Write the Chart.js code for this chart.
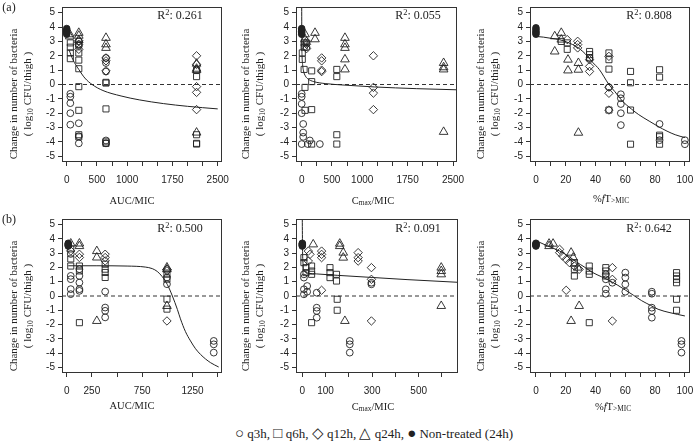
<!DOCTYPE html>
<html>
<head>
<meta charset="utf-8">
<script src="https://cdn.jsdelivr.net/npm/chart.js@4.4.1/dist/chart.umd.min.js"></script>
<style>
  body { margin: 0; background: #fff; }
  #wrap { position: relative; width: 696px; height: 448px; overflow: hidden; font-family: "Liberation Serif", "Times New Roman", serif; color: #222; }
  canvas { position: absolute; }
  .txt { position: absolute; white-space: nowrap; transform: translate(-50%, -50%); }
  .ytitle { position: absolute; white-space: nowrap; text-align: center; font-size: 11px; line-height: 14px; transform: translate(-50%, -50%) rotate(-90deg); }
  .xtitle { font-size: 10.5px; }
  .r2 { font-size: 12px; }
  .sym { font-size: 15px; line-height: 0; }
  sub { font-size: 70%; vertical-align: -0.25em; line-height: 0; }
  sup { font-size: 70%; vertical-align: 0.45em; line-height: 0; }
</style>
</head>
<body>
<div id="wrap">
  <canvas id="c1" width="230" height="195" style="left:0;top:0"></canvas>
  <canvas id="c2" width="240" height="195" style="left:230px;top:0"></canvas>
  <canvas id="c3" width="236" height="195" style="left:460px;top:0"></canvas>
  <canvas id="c4" width="230" height="195" style="left:0;top:205px"></canvas>
  <canvas id="c5" width="240" height="195" style="left:230px;top:205px"></canvas>
  <canvas id="c6" width="236" height="195" style="left:460px;top:205px"></canvas>

  <div class="txt" style="left:9px;top:7px;font-size:12px">(a)</div>
  <div class="txt" style="left:9px;top:219px;font-size:12px">(b)</div>

  <div class="ytitle" style="left:20px;top:94px">Change in number of bacteria<br>( log<sub>10</sub> CFU/thigh )</div>
  <div class="ytitle" style="left:252px;top:94px">Change in number of bacteria<br>( log<sub>10</sub> CFU/thigh )</div>
  <div class="ytitle" style="left:487px;top:94px">Change in number of bacteria<br>( log<sub>10</sub> CFU/thigh )</div>
  <div class="ytitle" style="left:20px;top:306px">Change in number of bacteria<br>( log<sub>10</sub> CFU/thigh )</div>
  <div class="ytitle" style="left:252px;top:306px">Change in number of bacteria<br>( log<sub>10</sub> CFU/thigh )</div>
  <div class="ytitle" style="left:487px;top:306px">Change in number of bacteria<br>( log<sub>10</sub> CFU/thigh )</div>

  <div class="txt xtitle" style="left:132px;top:200px">AUC/MIC</div>
  <div class="txt xtitle" style="left:373px;top:200px">C<sub>max</sub>/MIC</div>
  <div class="txt xtitle" style="left:611px;top:198px">%<i>f</i>T<sub>&gt;MIC</sub></div>
  <div class="txt xtitle" style="left:132px;top:405px">AUC/MIC</div>
  <div class="txt xtitle" style="left:373px;top:406px">C<sub>max</sub>/MIC</div>
  <div class="txt xtitle" style="left:613px;top:406px">%<i>f</i>T<sub>&gt;MIC</sub></div>

  <div class="txt r2" style="left:180px;top:15px">R<sup>2</sup>: 0.261</div>
  <div class="txt r2" style="left:418px;top:15px">R<sup>2</sup>: 0.055</div>
  <div class="txt r2" style="left:649px;top:15px">R<sup>2</sup>: 0.808</div>
  <div class="txt r2" style="left:180px;top:228px">R<sup>2</sup>: 0.500</div>
  <div class="txt r2" style="left:418px;top:228px">R<sup>2</sup>: 0.091</div>
  <div class="txt r2" style="left:649px;top:228px">R<sup>2</sup>: 0.642</div>

  <div class="txt" style="left:374px;top:434px;font-size:13px"><span class="sym">○</span> q3h, <span class="sym">□</span> q6h, <span class="sym">◇</span> q12h, <span class="sym">△</span> q24h, <span class="sym">●</span> Non-treated (24h)</div>
</div>

<script>
// ---- (a) AUC/MIC ----
const a1Ctrl = [[0,3.9],[0,3.8],[0,3.7],[0,3.6],[0,3.5]];
const a1Q3h = [[60,-0.65],[60,-0.85],[60,-1.3],[60,-2.0],[60,-2.8],[200,3.0],[200,2.7],[200,-2.7],[200,-3.6],[200,-4.1],[650,1.85],[650,1.5],[650,0.9],[650,-3.9],[650,-4.1]];
const a1Q6h = [[60,2.9],[60,2.6],[60,2.2],[60,1.8],[200,2.8],[200,2.2],[200,1.7],[200,1.1],[200,-0.15],[200,-1.8],[200,-3.5],[200,-3.65],[650,0.15],[650,0.1],[650,-1.7],[650,-4.0],[650,-4.1],[2150,1.0],[2150,0.55],[2150,-3.5],[2150,-4.1],[2150,-4.15]];
const a1Q12h = [[200,3.05],[200,2.8],[200,2.45],[650,1.85],[650,1.65],[650,0.95],[2150,2.0],[2150,1.4],[2150,-0.15],[2150,-0.55],[2150,-1.75]];
const a1Q24h = [[50,3.5],[50,3.35],[200,3.6],[200,3.4],[200,3.1],[650,3.25],[650,2.8],[650,2.55],[2150,1.45],[2150,1.1],[2150,1.0],[2150,-3.35]];
const a1Curve = [[40,2.4],[100,1.75],[200,1.05],[300,0.45],[420,0.0],[600,-0.42],[900,-0.8],[1200,-1.07],[1600,-1.33],[2000,-1.52],[2500,-1.7]];

// ---- (a) Cmax/MIC ----
const a2Ctrl = [[0,3.9],[0,3.8],[0,3.7],[0,3.6],[0,3.5]];
const a2Q3h = [[0,-0.65],[0,-0.85],[0,-1.35],[0,-2.0],[25,-2.75],[25,-3.35],[25,-3.65],[0,-4.15],[100,-4.15],[135,-3.9],[300,-4.15],[80,2.9],[80,2.6]];
const a2Q6h = [[10,2.2],[10,1.75],[40,2.9],[40,2.6],[40,1.05],[55,-0.2],[55,-1.8],[165,0.95],[165,0.2],[165,-1.75],[165,-4.15],[580,1.05],[580,0.55],[580,-3.5],[580,-4.15]];
const a2Q12h = [[80,3.0],[80,2.8],[80,2.5],[330,1.85],[330,1.65],[330,1.0],[330,0.9],[1185,2.0],[1185,-0.2],[1185,-0.6],[1185,-1.75]];
const a2Q24h = [[55,3.5],[55,3.15],[220,3.6],[220,3.15],[715,3.25],[715,2.8],[715,2.55],[715,1.75],[715,1.05],[2345,1.5],[2345,1.2],[2345,1.05],[2345,-3.3]];
const a2Curve = [[0,5.4],[2,3.0],[6,2.0],[15,1.4],[30,0.95],[60,0.6],[100,0.4],[200,0.2],[400,0.06],[700,-0.04],[1200,-0.17],[1900,-0.29],[2566,-0.37]];

// ---- (a) %fT>MIC ----
const a3Ctrl = [[0,3.95],[0,3.83],[0,3.7],[0,3.6],[0,3.5]];
const a3Q3h = [[49,-0.19],[57,-0.68],[57,-0.96],[57,-1.36],[57,-2.0],[57,-2.83],[83,-2.75],[83,-3.88],[100,-3.88],[100,-4.16],[36,1.85]];
const a3Q6h = [[17,3.0],[21,2.9],[21,2.45],[36,2.3],[36,2.08],[36,1.85],[49,2.2],[49,1.73],[49,1.07],[49,-1.78],[63.5,0.91],[63.5,0.12],[63.5,-1.78],[63.5,-4.16],[83,1.03],[83,0.51],[83,-3.53],[83,-3.64],[83,-4.16]];
const a3Q12h = [[21,3.13],[28,3.01],[28,2.78],[28,2.55],[36,1.73],[36,1.26],[36,0.91],[49,1.96],[49,-0.19],[49,-0.61],[49,-1.78]];
const a3Q24h = [[12.6,3.36],[17,3.6],[17,3.13],[12.6,2.3],[21.5,1.73],[21.5,0.98],[28.5,1.5],[28.5,1.03],[28.5,-3.36]];
const a3Curve = [[0,3.35],[5,3.3],[10,3.22],[16,3.12],[22,2.9],[27,2.65],[33,2.15],[38,1.55],[42.5,1.05],[49,0.0],[53,-0.5],[58,-1.15],[64,-1.7],[69,-2.1],[76,-2.55],[82,-2.92],[88,-3.25],[93.5,-3.5],[100,-3.7]];

// ---- (b) AUC/MIC ----
const b1Ctrl = [[15,3.7],[15,3.65],[15,3.6],[15,3.55],[15,3.5]];
const b1Q3h = [[40,2.95],[40,1.41],[40,1.18],[40,0.48],[40,0.13],[126,1.88],[126,1.41],[126,0.94],[126,0.48],[126,0.36],[382,0.31],[382,-0.81],[382,-1.04],[382,-1.5],[996,1.3],[996,0.83],[1461,-3.15],[1461,-3.39],[1461,-3.97]];
const b1Q6h = [[40,3.3],[40,2.6],[40,2.1],[126,2.1],[126,1.76],[126,-1.87],[382,2.23],[382,1.88],[382,1.65],[382,1.3],[996,1.53],[996,1.18],[996,-0.22],[996,-0.92]];
const b1Q12h = [[40,3.16],[126,2.93],[126,2.7],[382,2.93],[382,2.7],[382,2.46],[996,1.87],[996,1.76],[996,-1.75]];
const b1Q24h = [[40,3.68],[126,3.68],[126,3.5],[299,3.15],[299,2.7],[299,-1.75],[996,2.0],[996,1.87],[996,-0.7]];
const b1Curve = [[15,2.12],[300,2.12],[600,2.1],[780,2.03],[850,1.92],[900,1.72],[950,1.35],[1000,0.8],[1050,0.0],[1100,-0.95],[1130,-1.6],[1180,-2.5],[1230,-3.15],[1280,-3.7],[1330,-4.1],[1380,-4.42],[1430,-4.68],[1510,-4.98]];

// ---- (b) Cmax/MIC ----
const b2Ctrl = [[0,3.7],[0,3.65],[0,3.6],[0,3.55],[0,3.5]];
const b2Q3h = [[7,1.52],[7,1.29],[7,0.47],[7,0.12],[21,0.7],[21,0.3],[62,0.23],[62,-0.82],[62,-1.05],[62,-1.52],[204,-3.15],[204,-3.39],[204,-3.97],[297,0.93],[297,0.82]];
const b2Q6h = [[7,2.69],[7,2.34],[16,1.99],[16,1.64],[40,2.1],[40,1.75],[40,1.52],[119,1.99],[119,1.64],[119,1.29],[147,1.52],[147,1.05],[150,-0.23],[150,-1.0],[40,-1.87]];
const b2Q12h = [[26,3.15],[33,2.92],[26,2.45],[83,3.15],[83,2.92],[83,2.69],[83,0.4],[240,3.04],[240,2.69],[240,2.45],[297,1.99],[297,1.17],[297,-1.75]];
const b2Q24h = [[47,3.62],[161,3.67],[161,3.5],[176,3.04],[176,2.69],[183,-1.75],[597,1.99],[597,1.75],[597,1.52],[597,-0.7]];
const b2Curve = [[0,5.4],[1,3.4],[3,2.3],[6,1.85],[12,1.68],[25,1.6],[60,1.55],[150,1.45],[300,1.3],[450,1.15],[669,0.96]];

// ---- (b) %fT>MIC ----
const b3Ctrl = [[0,3.7],[0,3.65],[0,3.6],[0,3.55],[0,3.5]];
const b3Q3h = [[46.9,1.52],[46.9,1.17],[46.9,0.47],[46.9,0.16],[51.3,0.93],[60,1.64],[60,1.29],[60,0.82],[60,0.3],[77.8,0.3],[77.8,0.16],[77.8,-0.82],[77.8,-1.05],[77.8,-1.52],[97.7,-3.15],[97.7,-3.39],[97.7,-3.97]];
const b3Q6h = [[25.8,2.34],[25.8,1.87],[25.8,1.4],[35.8,2.1],[35.8,1.75],[35.8,1.52],[46.9,1.99],[46.9,1.75],[46.9,1.4],[94.4,1.64],[94.4,1.4],[94.4,1.17],[94.4,0.93],[94.4,-0.23],[94.4,-1.0],[35.8,-1.87]];
const b3Q12h = [[15.9,3.27],[15.9,3.04],[18,2.8],[20.3,2.57],[22.5,2.34],[25.8,2.1],[29,1.87],[20.3,0.4],[51.3,1.99],[51.3,1.17],[51.3,-1.75]];
const b3Q24h = [[8.8,3.67],[11.5,3.67],[8.8,3.5],[23.6,3.04],[25,2.69],[28,1.99],[29,-0.7],[23.6,-1.75]];
const b3Curve = [[0,3.88],[8,3.5],[16,3.15],[22,2.78],[27,2.4],[33,2.0],[38,1.65],[44,1.35],[49,1.1],[55,0.75],[60,0.42],[65.5,0.05],[71,-0.33],[77,-0.66],[82,-0.93],[90,-1.17],[100,-1.4]];

// ---- axes ----
const yTicks = [-5,-4,-3,-2,-1,0,1,2,3,4,5];
const auc2500Ticks = [0,250,500,750,1000,1250,1500,1750,2000,2250,2500];
const auc2500Labels = [0,500,1000,1750,2500];
const pctTicks = [0,10,20,30,40,50,60,70,80,90,100];
const pctLabels = [0,20,40,60,80,100];
const auc1500Ticks = [0,250,500,750,1000,1250,1500];
const auc1500Labels = [0,250,750,1250];
const cmax600Ticks = [0,100,200,300,400,500,600];
const cmax600Labels = [0,100,300,500];

const INK = '#222';
const xy = arr => arr.map(p => ({x: p[0], y: p[1]}));

// box around the plot region
const boxPlugin = {
  id: 'box',
  afterDraw(chart) {
    const a = chart.chartArea, c = chart.ctx;
    c.save();
    c.strokeStyle = '#333';
    c.lineWidth = 1;
    c.strokeRect(Math.round(a.left) + 0.5, Math.round(a.top) + 0.5, Math.round(a.right - a.left) - 1, Math.round(a.bottom - a.top) - 1);
    c.restore();
  }
};

function makePanel(id, p) {
  const pt = (data, style, r, fill) => ({
    type: 'scatter', data: xy(data), pointStyle: style, pointRadius: r,
    borderColor: INK, backgroundColor: fill ? INK : 'rgba(0,0,0,0)', pointBorderWidth: 0.9
  });
  const datasets = [
    pt(p.ctrl, 'circle', 3.3, true),
    pt(p.q24h, 'triangle', 5, false),
    pt(p.q12h, 'rectRot', 4.2, false),
    pt(p.q6h, 'rect', 4.3, false),
    pt(p.q3h, 'circle', 3.4, false),
    { type: 'line', data: xy(p.curve), showLine: true, pointRadius: 0, borderColor: INK, borderWidth: 1, cubicInterpolationMode: 'monotone' },
    { type: 'line', data: [{x: p.xMin, y: 0}, {x: p.xMax, y: 0}], showLine: true, pointRadius: 0, borderColor: '#333', borderWidth: 1, borderDash: [4, 3] }
  ];
  new Chart(document.getElementById(id), {
    type: 'scatter',
    data: { datasets },
    plugins: [boxPlugin],
    options: {
      animation: false, responsive: false, events: [],
      layout: { padding: { left: 0, right: p.padR, top: p.padT, bottom: 0 } },
      plugins: { legend: { display: false }, tooltip: { enabled: false } },
      scales: {
        x: {
          type: 'linear', min: p.xMin, max: p.xMax,
          afterBuildTicks: s => { s.ticks = p.xTicks.map(v => ({ value: v })); },
          afterFit: s => { s.height = p.xh; s.paddingLeft = 0; s.paddingRight = 0; },
          ticks: { autoSkip: false, maxRotation: 0, padding: 8, color: INK,
                   font: { family: 'Liberation Sans', size: 10 },
                   callback: v => p.xLabels.includes(v) ? String(v) : '' },
          grid: { drawOnChartArea: false, drawTicks: true, tickLength: 4, color: '#333' },
          border: { display: false }
        },
        y: {
          type: 'linear', min: -5.4, max: 5.4,
          afterBuildTicks: s => { s.ticks = yTicks.map(v => ({ value: v })); },
          afterFit: s => { s.width = p.yw; s.paddingTop = 0; s.paddingBottom = 0; },
          ticks: { autoSkip: false, padding: 3, color: INK,
                   font: { family: 'Liberation Sans', size: 10 },
                   callback: v => String(v) },
          grid: { drawOnChartArea: false, drawTicks: true, tickLength: 4, color: '#333' },
          border: { display: false }
        }
      }
    }
  });
}

makePanel('c1', { ctrl: a1Ctrl, q3h: a1Q3h, q6h: a1Q6h, q12h: a1Q12h, q24h: a1Q24h, curve: a1Curve,
  xMin: -78, xMax: 2571, xTicks: auc2500Ticks, xLabels: auc2500Labels, yw: 62, padR: 8, padT: 7, xh: 33 });
makePanel('c2', { ctrl: a2Ctrl, q3h: a2Q3h, q6h: a2Q6h, q12h: a2Q12h, q24h: a2Q24h, curve: a2Curve,
  xMin: -94, xMax: 2566, xTicks: auc2500Ticks, xLabels: auc2500Labels, yw: 66, padR: 13, padT: 7, xh: 33 });
makePanel('c3', { ctrl: a3Ctrl, q3h: a3Q3h, q6h: a3Q6h, q12h: a3Q12h, q24h: a3Q24h, curve: a3Curve,
  xMin: -4, xMax: 103.5, xTicks: pctTicks, xLabels: pctLabels, yw: 70, padR: 4, padT: 7, xh: 33 });
makePanel('c4', { ctrl: b1Ctrl, q3h: b1Q3h, q6h: b1Q6h, q12h: b1Q12h, q24h: b1Q24h, curve: b1Curve,
  xMin: -47, xMax: 1543, xTicks: auc1500Ticks, xLabels: auc1500Labels, yw: 62, padR: 8, padT: 14, xh: 27 });
makePanel('c5', { ctrl: b2Ctrl, q3h: b2Q3h, q6h: b2Q6h, q12h: b2Q12h, q24h: b2Q24h, curve: b2Curve,
  xMin: -27, xMax: 669, xTicks: cmax600Ticks, xLabels: cmax600Labels, yw: 66, padR: 12, padT: 14, xh: 27 });
makePanel('c6', { ctrl: b3Ctrl, q3h: b3Q3h, q6h: b3Q6h, q12h: b3Q12h, q24h: b3Q24h, curve: b3Curve,
  xMin: -4, xMax: 103.5, xTicks: pctTicks, xLabels: pctLabels, yw: 70, padR: 4, padT: 14, xh: 27 });
</script>
</body>
</html>
